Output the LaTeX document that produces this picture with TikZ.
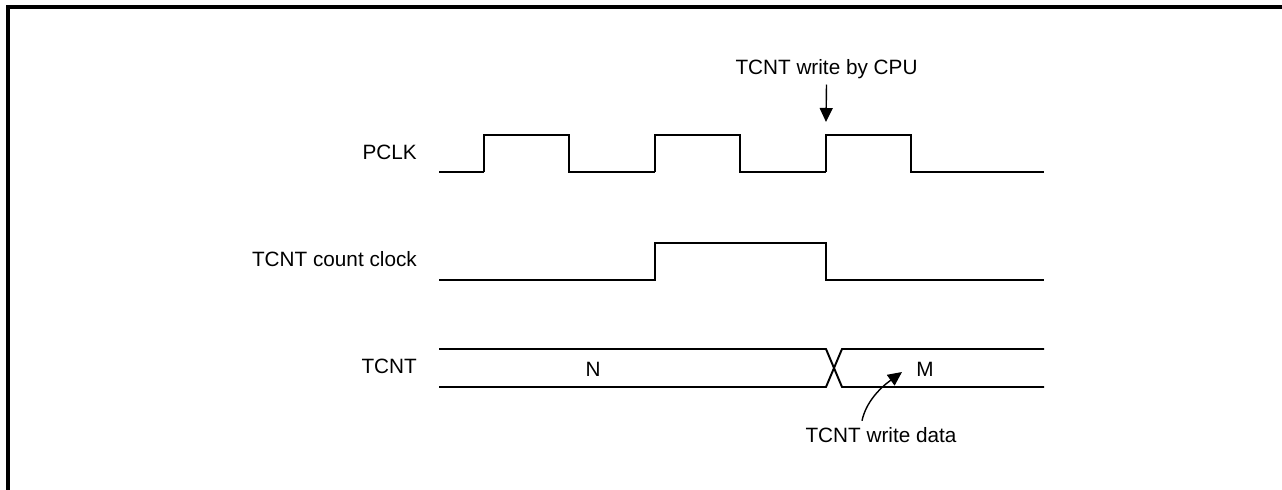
\documentclass[tikz,border=0pt]{standalone}
\usepackage{fontspec}
\setmainfont{Liberation Sans}
\usetikzlibrary{arrows,arrows.meta}
\usetikzlibrary{calc}
\tikzset{>={Triangle[length=2.8mm,width=2.6mm]}}
\tikzstyle{signal} = [line width = 1.1pt, line cap=butt, line join=miter]
\tikzstyle{frame} = [line width = 1.8pt]
\tikzstyle{lbl} = [font=\fontsize{11.8}{14}\selectfont, inner sep=3.33pt]
\tikzstyle{pointer} = [line width = 0.8pt, ->]
\begin{document}
\begin{tikzpicture}[x=0.02cm,y=-0.02cm]
	
	% Frame
	\useasboundingbox (0,0) rectangle (1282,490);
	\draw[frame] (8,490) -- (8,7) -- (1282,7);
	
	% Labels
	\node[lbl, anchor=east] (pclk)  at (423,152) {PCLK};
	\node[lbl, anchor=east] (cclk)  at (423,259) {TCNT count clock};
	\node[lbl, anchor=east] (tcnt)  at (423,366) {TCNT};
	\node[lbl] (n) at (593,369) {N};
	\node[lbl] (m) at (925,369) {M};
	\node[lbl, anchor=base] (cpu)  at (826.5,74) {TCNT write by CPU};
	\node[lbl, anchor=base] (data) at (881,442) {TCNT write data};
	
	% Coordinates
	\coordinate (wr) at (826,122);
	\coordinate (wd) at (902,372);
	
	% PCLK
	\draw[signal] (439,172) -- (484,172);
	\foreach \i in {0,1,2}
	{
		\draw[signal] ({484+171*\i},172) -- ({484+171*\i},135) -- ({569+171*\i},135) -- ({569+171*\i},172) -- ({655+171*\i},172);
	};
	\draw[signal] (997,172) -- (1044,172);
	
	% TCNT count clock
	\draw[signal] (439,280) -- (655,280) -- (655,243) -- (826,243) -- (826,280) -- (1044,280);
	
	% TCNT
	\draw[signal] (439,349) -- (826,349) -- (842,387) -- (1044,387);
	\draw[signal] (439,387) -- (826,387) -- (842,349) -- (1044,349);
	
	% Arrows
	\draw[pointer] (cpu.south) -- (wr);
	\draw[pointer] ([xshift=-0.38cm]data.north) .. controls (866,402) and (880,388) .. (wd);

\end{tikzpicture}
\end{document}
